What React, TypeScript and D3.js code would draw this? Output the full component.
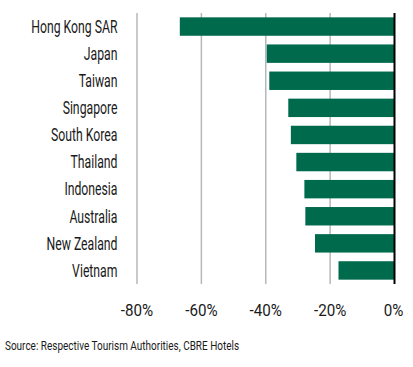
import React from "react";
import * as d3 from "d3";

const categories = [
  "Hong Kong SAR",
  "Japan",
  "Taiwan",
  "Singapore",
  "South Korea",
  "Thailand",
  "Indonesia",
  "Australia",
  "New Zealand",
  "Vietnam",
];
const values = [-0.667, -0.397, -0.389, -0.33, -0.322, -0.305, -0.28, -0.277, -0.247, -0.174];
const tickValues = [-0.8, -0.6, -0.4, -0.2, 0];
const tickLabels = ["-80%", "-60%", "-40%", "-20%", "0%"];
const sourceText = "Source: Respective Tourism Authorities, CBRE Hotels";

const W = 413;
const H = 367;
const FONT = "Roboto, 'Open Sans', sans-serif";

export default function App() {
  const x = d3.scaleLinear().domain([-0.8, 0]).range([137, 394.5]);
  const y = d3
    .scaleBand<string>()
    .domain(categories)
    .range([13, 284])
    .paddingInner(0.32)
    .paddingOuter(0.16);
  const top = 13;
  const bottom = 284;

  return (
    <svg
      width={W}
      height={H}
      style={{ position: "absolute", left: 0, top: 0, background: "#fff" }}
    >
      {tickValues.slice(0, -1).map((t) => (
        <line
          key={t}
          x1={x(t)}
          x2={x(t)}
          y1={top}
          y2={bottom}
          stroke="#b3b8bc"
          strokeWidth={1.5}
        />
      ))}
      {categories.map((c, i) => (
        <rect
          key={c}
          x={x(values[i])}
          y={y(c)}
          width={x(0) - x(values[i])}
          height={y.bandwidth()}
          fill="#006a4d"
        />
      ))}
      <line x1={x(0)} x2={x(0)} y1={top} y2={bottom} stroke="#000" strokeWidth={2} />
      {categories.map((c) => (
        <text
          key={c}
          transform={`translate(117.5, ${(y(c) as number) + y.bandwidth() / 2 + 6.3}) scale(0.68,1)`}
          textAnchor="end"
          fontFamily={FONT}
          fontSize={18}
          fill="#1a1a1a"
        >
          {c}
        </text>
      ))}
      {tickValues.map((t, i) => (
        <text
          key={t}
          transform={`translate(${x(t) + (t === 0 ? -1 : 0)}, 316) scale(0.95,1)`}
          textAnchor="middle"
          fontFamily={FONT}
          fontSize={16}
          fill="#1a1a1a"
        >
          {tickLabels[i]}
        </text>
      ))}
      <text
        transform="translate(5, 350) scale(0.74,1)"
        fontFamily={FONT}
        fontSize={13.5}
        fill="#1a1a1a"
      >
        {sourceText}
      </text>
    </svg>
  );
}
